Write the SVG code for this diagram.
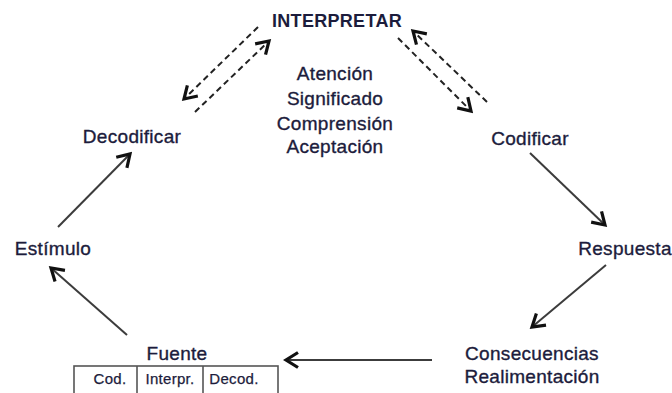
<svg xmlns="http://www.w3.org/2000/svg" width="672" height="393" viewBox="0 0 672 393">
  <style>
    .lbl { font-family: "Liberation Sans", Arial, sans-serif; font-size: 19px; fill: #1c1c3c; stroke: #1c1c3c; stroke-width: 0.35px; text-anchor: middle; letter-spacing: 0.3px; }
    .title { font-weight: bold; font-size: 18px; stroke-width: 0; }
    .cell { font-size: 15px; stroke-width: 0.25px; }
    .flow { stroke: #3c3c3c; stroke-width: 2; fill: none; marker-end: url(#head); }
    .dash { stroke: #222; stroke-width: 2; stroke-dasharray: 6 4; fill: none; marker-end: url(#head); }
    .grid { stroke: #555; stroke-width: 1.6; fill: #fff; }
  </style>
  <defs>
    <marker id="head" markerUnits="userSpaceOnUse" viewBox="-15 -10 18 20" refX="0" refY="0" markerWidth="18" markerHeight="20" orient="auto">
      <path d="M-12,-7.5 L0,0 L-12,7.5" fill="none" stroke="#111" stroke-width="3.2" stroke-linejoin="miter"/>
    </marker>
  </defs>

  <rect width="672" height="393" fill="#fff"/>

  <!-- connectors -->
  <g id="connectors">
    <line class="flow" x1="127" y1="335" x2="51" y2="268"/>
    <line class="flow" x1="58" y1="227" x2="130" y2="154"/>
    <line class="flow" x1="530" y1="153" x2="605" y2="225"/>
    <line class="flow" x1="606" y1="265" x2="532" y2="327"/>
    <line class="flow" x1="432" y1="360" x2="286" y2="360"/>
    <line class="dash" x1="258" y1="27" x2="184" y2="99"/>
    <line class="dash" x1="195" y1="112" x2="269" y2="41"/>
    <line class="dash" x1="487" y1="102" x2="413" y2="31"/>
    <line class="dash" x1="398" y1="38" x2="471" y2="111"/>
  </g>

  <g id="interpretar">
    <text class="lbl title" x="337" y="27">INTERPRETAR</text>
    <text class="lbl" x="335" y="80">Atención</text>
    <text class="lbl" x="335" y="105">Significado</text>
    <text class="lbl" x="335" y="130">Comprensión</text>
    <text class="lbl" x="335" y="153">Aceptación</text>
  </g>

  <g id="decodificar">
    <text class="lbl" x="132" y="143">Decodificar</text>
  </g>

  <g id="codificar">
    <text class="lbl" x="530" y="145">Codificar</text>
  </g>

  <g id="estimulo">
    <text class="lbl" x="53" y="255">Estímulo</text>
  </g>

  <g id="respuesta">
    <text class="lbl" x="625" y="255">Respuesta</text>
  </g>

  <g id="consecuencias">
    <text class="lbl" x="532" y="360">Consecuencias</text>
    <text class="lbl" x="532" y="383">Realimentación</text>
  </g>

  <g id="fuente">
    <text class="lbl" x="177" y="360">Fuente</text>
    <rect class="grid" x="74" y="366" width="204" height="34"/>
    <line class="grid" x1="137" y1="366" x2="137" y2="393"/>
    <line class="grid" x1="203" y1="366" x2="203" y2="393"/>
    <text class="lbl cell" x="110" y="384">Cod.</text>
    <text class="lbl cell" x="170" y="384">Interpr.</text>
    <text class="lbl cell" x="234" y="384">Decod.</text>
  </g>
</svg>
